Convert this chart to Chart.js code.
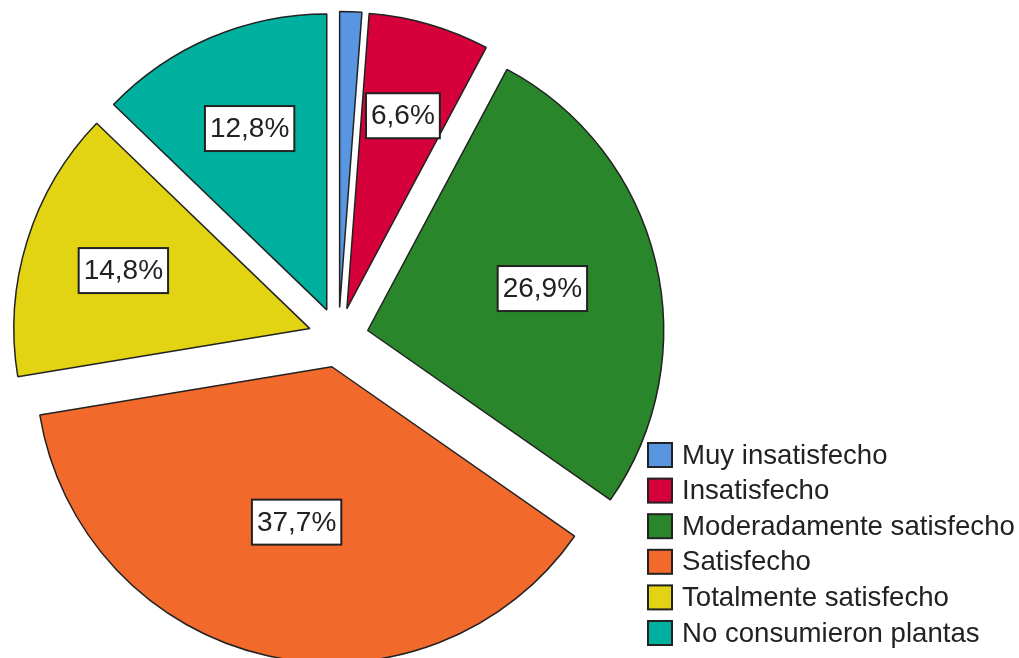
<!DOCTYPE html>
<html>
<head>
<meta charset="utf-8">
<script src="https://cdn.jsdelivr.net/npm/chart.js@4.4.1/dist/chart.umd.min.js"></script>
<style>
  html, body { margin: 0; padding: 0; background: #fff; }
  #wrap { width: 1019px; height: 658px; }
</style>
</head>
<body>
<div id="wrap"><canvas id="pieChart" width="1019" height="658"></canvas></div>
<script>
// datos
const categorias = ['Muy insatisfecho', 'Insatisfecho', 'Moderadamente satisfecho', 'Satisfecho', 'Totalmente satisfecho', 'No consumieron plantas'];
const porcentajes = [1.2, 6.6, 26.9, 37.7, 14.8, 12.8];
const colores = ['#5896e2', '#d6003a', '#2a862a', '#f2692c', '#e2d412', '#00b09e'];

const fuente = '"Liberation Sans", Arial, sans-serif';
const separacion = 30;

// el offset de Chart.js se divide por 4 y agranda las porciones chicas,
// aca se desplaza cada porcion entera sin cambiar el radio
const drawOriginal = Chart.ArcElement.prototype.draw;
Chart.ArcElement.prototype.draw = function(ctx) {
  const opts = this.options;
  const d = opts.offset || 0;
  const mid = (this.startAngle + this.endAngle) / 2;
  this.options = Object.assign({}, opts, { offset: 0 });
  ctx.save();
  ctx.translate(Math.cos(mid) * d, Math.sin(mid) * d);
  drawOriginal.call(this, ctx);
  ctx.restore();
  this.options = opts;
};

// etiquetas con caja blanca sobre cada porcion
const etiquetasPlugin = {
  id: 'etiquetas',
  afterDatasetsDraw(chart) {
    const ctx = chart.ctx;
    const meta = chart.getDatasetMeta(0);
    const ds = chart.data.datasets[0];
    ctx.save();
    ctx.font = '28px ' + fuente;
    ctx.textAlign = 'center';
    ctx.textBaseline = 'middle';
    meta.data.forEach(function(arc, i) {
      const v = ds.data[i];
      if (v < 2) return;
      const mid = (arc.startAngle + arc.endAngle) / 2;
      const half = (arc.endAngle - arc.startAngle) / 2;
      const r = arc.outerRadius;
      const dist = 2 * r * Math.sin(half) / (3 * half) + separacion + 5;
      const x = arc.x + Math.cos(mid) * dist;
      const y = arc.y + Math.sin(mid) * dist;
      const txt = v.toFixed(1).replace('.', ',') + '%';
      const w = ctx.measureText(txt).width + 10;
      const h = 45;
      ctx.fillStyle = '#fff';
      ctx.fillRect(x - w / 2, y - h / 2, w, h);
      ctx.lineWidth = 2;
      ctx.strokeStyle = '#222';
      ctx.strokeRect(x - w / 2, y - h / 2, w, h);
      ctx.fillStyle = '#222';
      ctx.fillText(txt, x, y + 1);
    });
    ctx.restore();
  }
};

// leyenda abajo a la derecha
const leyendaPlugin = {
  id: 'leyenda',
  afterDraw(chart) {
    const ctx = chart.ctx;
    ctx.save();
    ctx.font = '27.6px ' + fuente;
    ctx.textAlign = 'left';
    ctx.textBaseline = 'middle';
    for (let i = 0; i < categorias.length; i++) {
      const cy = 455 + i * 35.6;
      ctx.fillStyle = colores[i];
      ctx.fillRect(648, cy - 12, 24, 24);
      ctx.lineWidth = 2;
      ctx.strokeStyle = '#222';
      ctx.strokeRect(648, cy - 12, 24, 24);
      ctx.fillStyle = '#222';
      ctx.fillText(categorias[i], 682, cy + 1);
    }
    ctx.restore();
  }
};

const ctxP = document.getElementById('pieChart').getContext('2d');
const myPie = new Chart(ctxP, {
  type: 'pie',
  data: {
    labels: categorias,
    datasets: [{
      data: porcentajes,
      backgroundColor: colores,
      borderColor: '#222',
      borderWidth: 1.5,
      offset: separacion,
      radius: 296,
      clip: false
    }]
  },
  options: {
    responsive: false,
    animation: false,
    layout: { padding: { left: 0, right: 342, top: 17, bottom: 0 } },
    plugins: {
      legend: { display: false },
      tooltip: { enabled: false }
    }
  },
  plugins: [etiquetasPlugin, leyendaPlugin]
});
</script>
</body>
</html>
